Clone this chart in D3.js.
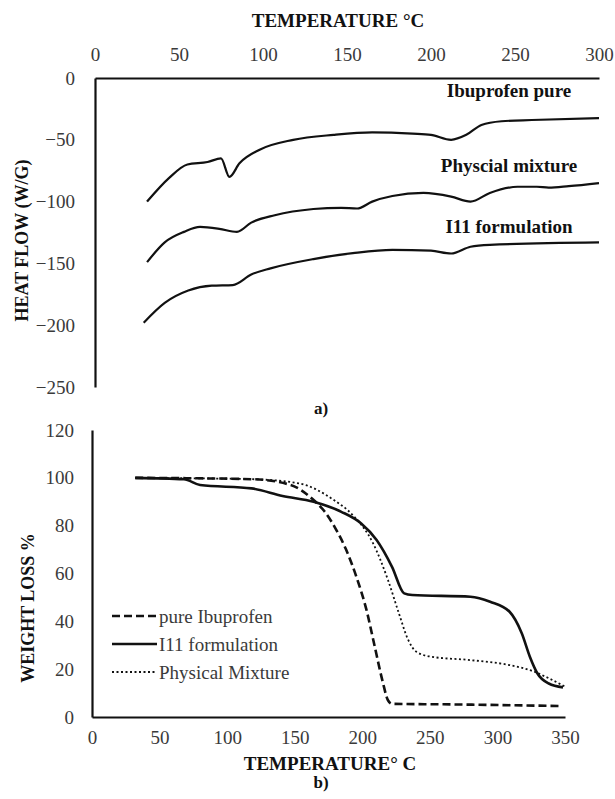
<!DOCTYPE html>
<html>
<head>
<meta charset="utf-8">
<script src="https://cdn.jsdelivr.net/npm/d3@7"></script>
<style>
  html, body { margin: 0; padding: 0; background: #fff; }
  svg { display: block; }
</style>
</head>
<body>
<svg id="chart" width="615" height="799"></svg>
<script>
// ---------- Data: (a) DSC heat flow ----------
const dscTicksX = [0, 50, 100, 150, 200, 250, 300];
const dscTicksY = [0, -50, -100, -150, -200, -250];

const ibuT = [31, 44, 55, 67, 75, 80, 86, 98, 118, 142, 165, 189, 200, 212, 221, 230, 242, 260, 300];
const ibuV = [-100, -81, -70, -68, -65, -80, -69, -58, -50, -46, -44, -45, -46, -50, -46, -38, -35, -34, -32.5];

const physT = [31, 41.5, 53, 62.5, 74, 84.5, 93, 107, 130, 146.5, 156, 165, 177, 195.5, 212, 223.5, 235, 251.5, 263, 270, 282, 300];
const physV = [-149, -133, -124.5, -120.5, -122, -124.5, -117, -111, -106, -105, -105.6, -100, -95.5, -93, -96, -100, -93, -88, -88, -88.7, -87.5, -85];

const i11T = [29, 41.5, 55.5, 69.5, 82, 93, 104.5, 130, 153.5, 177, 200, 212, 223.5, 235, 300];
const i11V = [-198, -182, -172, -168, -167.5, -159, -154, -146.5, -141.7, -139, -139.7, -142, -136.5, -135, -133];

const dscLabels = ["Ibuprofen pure", "Physcial mixture", "I11 formulation"];
const dscLabelAt = [-10, -71, -120];   // value (W/G) where each label sits

// ---------- Data: (b) TGA weight loss ----------
const tgaTicksX = [0, 50, 100, 150, 200, 250, 300, 350];
const tgaTicksY = [0, 20, 40, 60, 80, 100, 120];

const pureT = [32, 77, 120, 147, 164, 172, 180, 188, 196, 203, 209, 215, 219, 222, 260, 347];
const pureV = [100, 99.8, 99.4, 97, 90.7, 86, 79, 70, 58, 45, 30, 15, 7, 5.5, 5.3, 4.6];

const i11bT = [32, 68, 80, 118, 141, 164, 184.5, 199, 210.6, 222, 231, 237, 280, 294.6, 309, 318, 324, 329.5, 338, 348.5];
const i11bV = [100, 99.4, 97, 95.6, 92.4, 90, 85.8, 81, 74, 62.8, 51.7, 51, 50.3, 48.2, 44, 35, 25.2, 18.3, 14, 12.4];

const physbT = [32, 77, 120, 153, 179, 193, 208, 219, 227, 234, 240, 251, 280, 309, 327, 338, 350];
const physbV = [100, 99.8, 99.4, 97.7, 90.7, 84.4, 72.6, 57.3, 43.5, 32.2, 27.3, 25.2, 23.8, 21.7, 19, 16.2, 12.7];

const tgaLegend = ["pure Ibuprofen", "I11 formulation", "Physical Mixture"];

// ---------- Drawing ----------
const svg = d3.select("#chart");
const FONT = "Liberation Serif, Tinos, Times New Roman, Times, DejaVu Serif Condensed, DejaVu Serif, serif";
const tickColor = "#3a3a3a";

const zip = (xs, ys) => xs.map((x, i) => ({x, y: ys[i]}));

// ===== (a) =====
const xa = d3.scaleLinear().domain([0, 300]).range([95, 599]);
const ya = d3.scaleLinear().domain([-250, 0]).range([387, 78]);

const gA = svg.append("g");
const axTop = gA.append("g").attr("transform", `translate(0,${ya(0)})`)
  .call(d3.axisTop(xa).tickValues(dscTicksX).tickSize(0).tickSizeOuter(0).tickPadding(17));
const axLeftA = gA.append("g").attr("transform", `translate(${xa(0)},0)`)
  .call(d3.axisLeft(ya).tickValues(dscTicksY).tickSize(0).tickSizeOuter(0).tickPadding(20));

[axTop, axLeftA].forEach(ax => {
  ax.select(".domain").attr("stroke", "#111").attr("stroke-width", 2.2);
  ax.selectAll("text").attr("font-family", FONT).attr("font-size", 19).attr("fill", tickColor);
});

const lineA = d3.line().x(d => xa(d.x)).y(d => ya(d.y)).curve(d3.curveMonotoneX);
[[ibuT, ibuV], [physT, physV], [i11T, i11V]].forEach(([t, v]) => {
  gA.append("path").datum(zip(t, v))
    .attr("d", lineA).attr("fill", "none").attr("stroke", "#111").attr("stroke-width", 2.2);
});

dscLabels.forEach((lab, i) => {
  gA.append("text").attr("x", 509).attr("y", ya(dscLabelAt[i]))
    .attr("text-anchor", "middle").attr("dy", "0.35em")
    .attr("font-family", FONT).attr("font-weight", "bold").attr("font-size", 19)
    .attr("fill", "#111").text(lab);
});

gA.append("text").attr("x", 338).attr("y", 20).attr("dy", "0.35em")
  .attr("text-anchor", "middle").attr("font-family", FONT).attr("font-weight", "bold")
  .attr("font-size", 19).attr("fill", "#111").text("TEMPERATURE °C");

gA.append("text").attr("transform", `translate(22,${(ya(0) + ya(-250)) / 2 + 8}) rotate(-90)`)
  .attr("dy", "0.35em").attr("text-anchor", "middle").attr("font-family", FONT)
  .attr("font-weight", "bold").attr("font-size", 18).attr("fill", "#111").text("HEAT FLOW (W/G)");

gA.append("text").attr("x", 321).attr("y", 408).attr("dy", "0.35em")
  .attr("text-anchor", "middle").attr("font-family", FONT).attr("font-weight", "bold")
  .attr("font-size", 17).attr("fill", "#111").text("a)");

// ===== (b) =====
const xb = d3.scaleLinear().domain([0, 350]).range([92, 565]);
const yb = d3.scaleLinear().domain([0, 120]).range([717, 430]);

const gB = svg.append("g");
const axBottom = gB.append("g").attr("transform", `translate(0,${yb(0)})`)
  .call(d3.axisBottom(xb).tickValues(tgaTicksX).tickSize(0).tickSizeOuter(0).tickPadding(14));
const axLeftB = gB.append("g").attr("transform", `translate(${xb(0)},0)`)
  .call(d3.axisLeft(yb).tickValues(tgaTicksY).tickSize(0).tickSizeOuter(0).tickPadding(18));

[axBottom, axLeftB].forEach(ax => {
  ax.select(".domain").attr("stroke", "#111").attr("stroke-width", 2.2);
  ax.selectAll("text").attr("font-family", FONT).attr("font-size", 19).attr("fill", tickColor);
});

const lineB = d3.line().x(d => xb(d.x)).y(d => yb(d.y)).curve(d3.curveMonotoneX);
const tgaStyles = [
  {w: 2.6, dash: "8,4"},
  {w: 2.6, dash: null},
  {w: 1.8, dash: "2,2.5"}
];
[[pureT, pureV], [i11bT, i11bV], [physbT, physbV]].forEach(([t, v], i) => {
  const p = gB.append("path").datum(zip(t, v))
    .attr("d", lineB).attr("fill", "none").attr("stroke", "#111")
    .attr("stroke-width", tgaStyles[i].w);
  if (tgaStyles[i].dash) p.attr("stroke-dasharray", tgaStyles[i].dash);
});

// legend
const legY = [616, 644, 672];
tgaLegend.forEach((lab, i) => {
  const l = gB.append("line").attr("x1", 112).attr("x2", 157).attr("y1", legY[i]).attr("y2", legY[i])
    .attr("stroke", "#111").attr("stroke-width", tgaStyles[i].w);
  if (tgaStyles[i].dash) l.attr("stroke-dasharray", tgaStyles[i].dash);
  gB.append("text").attr("x", 159).attr("y", legY[i]).attr("dy", "0.35em")
    .attr("font-family", FONT).attr("font-size", 19).attr("fill", tickColor).text(lab);
});

gB.append("text").attr("x", 330).attr("y", 763).attr("dy", "0.35em")
  .attr("text-anchor", "middle").attr("font-family", FONT).attr("font-weight", "bold")
  .attr("font-size", 19).attr("fill", "#111").text("TEMPERATURE° C");

gB.append("text").attr("transform", `translate(28,${608}) rotate(-90)`)
  .attr("dy", "0.35em").attr("text-anchor", "middle").attr("font-family", FONT)
  .attr("font-weight", "bold").attr("font-size", 18).attr("fill", "#111").text("WEIGHT LOSS %");

gB.append("text").attr("x", 321).attr("y", 782).attr("dy", "0.35em")
  .attr("text-anchor", "middle").attr("font-family", FONT).attr("font-weight", "bold")
  .attr("font-size", 17).attr("fill", "#111").text("b)");
</script>
</body>
</html>
